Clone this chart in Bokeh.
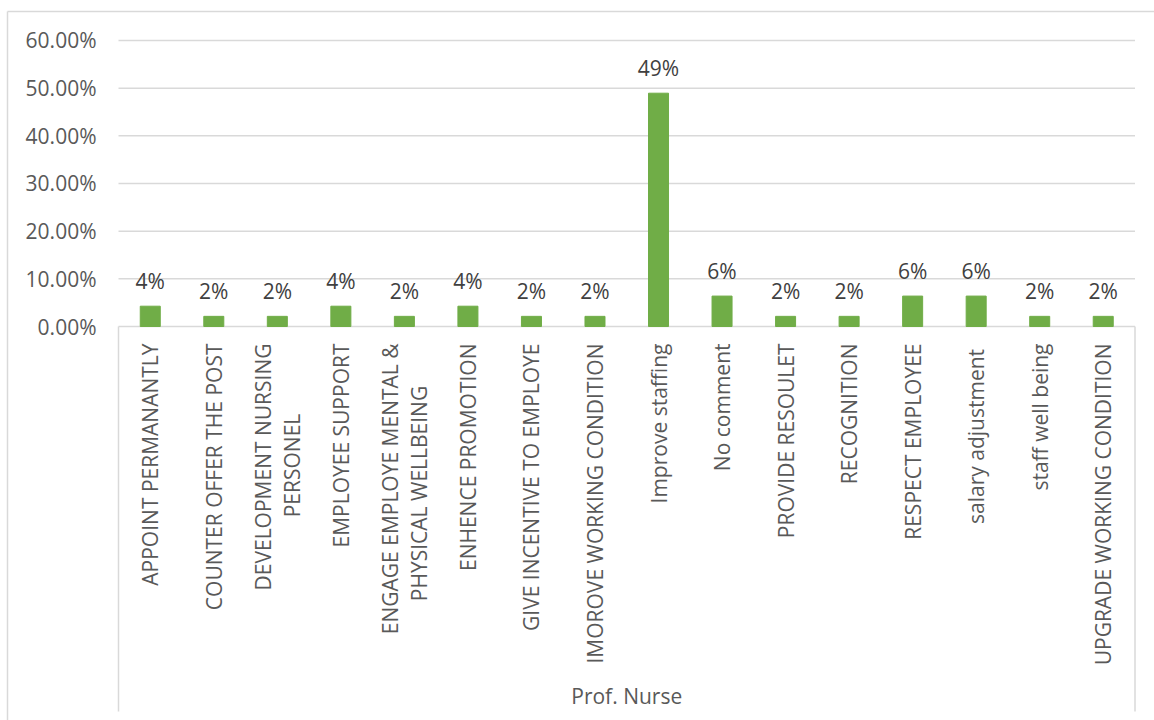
import math
from bokeh.plotting import figure
from bokeh.models import ColumnDataSource, Range1d
from bokeh.embed import file_html
from bokeh.resources import INLINE
from bokeh.core.properties import value

# ---------------- data ----------------
categories = [
    "APPOINT PERMANANTLY",
    "COUNTER OFFER THE POST",
    "DEVELOPMENT NURSING\nPERSONEL",
    "EMPLOYEE SUPPORT",
    "ENGAGE EMPLOYE MENTAL &\nPHYSICAL WELLBEING",
    "ENHENCE PROMOTION",
    "GIVE INCENTIVE TO EMPLOYE",
    "IMOROVE WORKING CONDITION",
    "Improve staffing",
    "No comment",
    "PROVIDE RESOULET",
    "RECOGNITION",
    "RESPECT EMPLOYEE",
    "salary  adjustment",
    "staff well being",
    "UPGRADE WORKING CONDITION",
]
values = [0.0426, 0.0213, 0.0213, 0.0426, 0.0213, 0.0426, 0.0213, 0.0213,
          0.4894, 0.0638, 0.0213, 0.0213, 0.0638, 0.0638, 0.0213, 0.0213]
value_labels = ["4%", "2%", "2%", "4%", "2%", "4%", "2%", "2%",
                "49%", "6%", "2%", "2%", "6%", "6%", "2%", "2%"]
y_ticks = [0.0, 0.1, 0.2, 0.3, 0.4, 0.5, 0.6]
y_tick_labels = ["0.00%", "10.00%", "20.00%", "30.00%", "40.00%", "50.00%", "60.00%"]
group_label = "Prof. Nurse"

# ---------------- layout ----------------
W, H = 1154, 720
PX_L, PX_R = 118.0, 1134.5        # plot area left/right (px)
PX_Y0, PX_PER = 326.0, 476.7       # y=0 pixel row, px per unit
n = len(categories)
xs = (PX_R - PX_L) / n
x_range = Range1d(-PX_L / xs, (W - PX_L) / xs)
y_range = Range1d(-(H - PX_Y0) / PX_PER, PX_Y0 / PX_PER)


def px_x(px):
    return (px - PX_L) / xs


def px_y(py):
    return (PX_Y0 - py) / PX_PER


p = figure(width=W, height=H, x_range=x_range, y_range=y_range,
           x_axis_type=None, y_axis_type=None, toolbar_location=None,
           output_backend="svg", min_border=0, outline_line_color=None,
           background_fill_color="white", border_fill_color="white")

FONT = value("Open Sans")
GRID = "#d9d9d9"
TXT = "#595959"
CAT_SIZE = "21px"
LINE_GAP = 29.5      # px between wrapped label lines
LABEL_TOP = 17       # px below the axis where labels end
# approximate centre (px below label top) of wrapped first lines
WRAP_CENTRE = {2: 122, 4: 150}

xc = [i + 0.5 for i in range(n)]

# outer chart border (left + top)
p.segment(x0=[px_x(7), px_x(7)], y0=[px_y(11), px_y(11)],
          x1=[x_range.end + 1, px_x(7)], y1=[px_y(11), y_range.start - 1],
          line_color=GRID, line_width=1.5)

# gridlines
grid_src = ColumnDataSource(dict(x0=[0] * len(y_ticks), x1=[n] * len(y_ticks),
                                 y=y_ticks, lab=y_tick_labels))
p.segment(x0="x0", y0="y", x1="x1", y1="y", source=grid_src,
          line_color=GRID, line_width=1.5)

# category box vertical lines
p.segment(x0=[0, n], y0=[0, 0], x1=[0, n], y1=[px_y(711), px_y(711)],
          line_color=GRID, line_width=1.5)

# bars
src = ColumnDataSource(dict(x=xc, top=values, lab=value_labels))
p.vbar(x="x", top="top", bottom=0, width=0.315, source=src,
       fill_color="#70ad47", line_color="#70ad47")

# value labels
p.text(x="x", y="top", text="lab", source=src, text_align="center",
       text_baseline="alphabetic", y_offset=-25, text_font=FONT,
       text_font_size="21px", text_color="#404040")

# y tick labels
p.text(x=0, y="y", text="lab", source=grid_src, x_offset=-22,
       text_align="right", text_baseline="middle", text_font=FONT,
       text_font_size="21px", text_color=TXT)

# category labels (rotated), first lines
l1 = dict(x=[], t=[], xo=[])
l2 = dict(x=[], t=[], xo=[], yo=[])
for i, c in enumerate(categories):
    parts = c.split("\n")
    if len(parts) == 1:
        l1["x"].append(xc[i]); l1["t"].append(parts[0]); l1["xo"].append(0)
    else:
        l1["x"].append(xc[i]); l1["t"].append(parts[0]); l1["xo"].append(-LINE_GAP / 2)
        l2["x"].append(xc[i]); l2["t"].append(parts[1]); l2["xo"].append(LINE_GAP / 2)
        l2["yo"].append(LABEL_TOP + WRAP_CENTRE.get(i, 120))

p.text(x="x", y=0, text="t", source=ColumnDataSource(l1), angle=math.pi / 2,
       x_offset="xo", y_offset=LABEL_TOP, text_align="right",
       text_baseline="middle", text_font=FONT, text_font_size=CAT_SIZE,
       text_color=TXT)
p.text(x="x", y=0, text="t", source=ColumnDataSource(l2), angle=math.pi / 2,
       x_offset="xo", y_offset="yo", text_align="center",
       text_baseline="middle", text_font=FONT, text_font_size=CAT_SIZE,
       text_color=TXT)

# group label
p.text(x=[n / 2], y=[px_y(695)], text=[group_label], text_align="center",
       text_baseline="middle", text_font=FONT, text_font_size="21px",
       text_color=TXT)

open("out.html", "w").write(file_html(p, INLINE))
